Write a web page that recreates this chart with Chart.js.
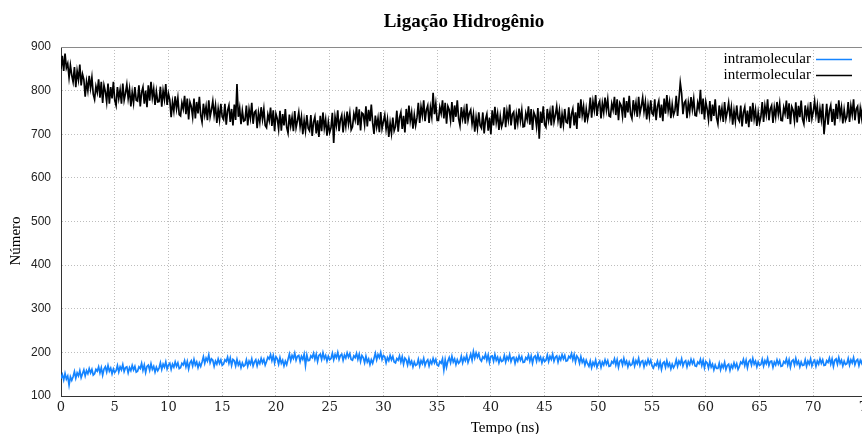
<!DOCTYPE html>
<html>
<head>
<meta charset="utf-8">
<script src="https://cdn.jsdelivr.net/npm/chart.js@4.4.1/dist/chart.umd.min.js"></script>
<style>
  html, body { margin: 0; padding: 0; background: #fff; overflow: hidden; }
  #grafico { display: block; }
</style>
</head>
<body>
<canvas id="grafico" width="867" height="434"></canvas>
<script>
// valores, um ponto a cada 0.125 ns (0 a 75 ns)
const PASSO = 0.125;

const intermolecular = [
  850,
  880, 845, 885, 852, 862, 830, 858, 835, 820, 854, 808, 845, 825, 860, 812, 838,
  826, 786, 821, 800, 834, 806, 830, 792, 780, 810, 796, 826, 784, 820, 772, 812,
  798, 774, 816, 770, 808, 782, 820, 778,
  766, 808, 782, 802, 770, 816, 778, 794, 814, 782, 804, 764, 796, 772, 808, 778,
  776, 812, 764, 796, 808, 770, 800, 762, 812, 777, 820, 784, 804, 767, 798, 774,
  775, 809, 763, 800, 780, 815, 767, 793,
  779, 739, 774, 753, 787, 759, 783, 745, 742, 772, 758, 788, 746, 782, 734, 774,
  764, 740, 782, 736, 774, 748, 786, 744, 728, 770, 744, 764, 732, 778, 740, 756,
  776, 744, 766, 726, 758, 734, 770, 740,
  734, 770, 722, 754, 766, 728, 758, 720, 768, 733, 815, 740, 760, 723, 754, 730,
  732, 766, 720, 757, 737, 772, 724, 750, 754, 714, 749, 728, 762, 734, 758, 720,
  715, 745, 731, 761, 719, 755, 707, 747,
  736, 712, 754, 708, 746, 720, 758, 716, 703, 745, 719, 739, 707, 753, 715, 731,
  750, 718, 740, 700, 732, 708, 744, 714, 708, 744, 696, 728, 740, 702, 732, 694,
  742, 707, 750, 714, 734, 697, 728, 704,
  715, 749, 680, 740, 720, 755, 707, 733, 744, 704, 739, 718, 752, 724, 748, 710,
  717, 747, 733, 763, 721, 757, 709, 749, 746, 722, 764, 718, 756, 730, 768, 726,
  701, 743, 717, 737, 705, 751, 713, 729,
  744, 712, 734, 694, 726, 702, 738, 708, 718, 754, 706, 738, 750, 712, 742, 704,
  758, 723, 766, 730, 750, 713, 744, 720, 738, 772, 726, 763, 743, 778, 730, 756,
  766, 726, 761, 740, 795, 746, 770, 732,
  732, 762, 748, 778, 736, 772, 724, 764, 756, 732, 774, 728, 766, 740, 778, 736,
  720, 762, 736, 756, 724, 770, 732, 748, 756, 724, 746, 706, 738, 714, 750, 720,
  714, 750, 702, 734, 746, 708, 738, 700,
  755, 720, 763, 727, 747, 710, 741, 717, 728, 762, 716, 753, 733, 768, 720, 746,
  751, 711, 746, 725, 759, 731, 755, 717, 718, 748, 734, 764, 722, 758, 710, 750,
  742, 718, 760, 690, 752, 726, 764, 722,
  716, 758, 732, 752, 720, 766, 728, 744, 764, 732, 754, 714, 746, 722, 758, 728,
  726, 762, 714, 746, 758, 720, 750, 712, 772, 737, 780, 744, 764, 727, 758, 734,
  750, 784, 738, 775, 755, 790, 742, 768,
  776, 736, 771, 750, 784, 756, 780, 742, 740, 770, 756, 786, 744, 780, 732, 772,
  766, 742, 784, 738, 776, 750, 788, 746, 736, 778, 752, 772, 740, 786, 748, 764,
  784, 752, 774, 734, 766, 742, 778, 748,
  744, 780, 732, 764, 776, 738, 768, 730, 782, 747, 790, 754, 774, 737, 768, 744,
  754, 788, 742, 779, 818, 794, 746, 772, 777, 737, 772, 751, 785, 757, 781, 743,
  742, 772, 758, 802, 746, 782, 734, 774,
  758, 734, 776, 730, 768, 742, 780, 738, 724, 766, 740, 760, 728, 774, 736, 752,
  772, 740, 762, 722, 754, 730, 766, 736, 730, 766, 718, 750, 762, 724, 754, 716,
  764, 729, 772, 736, 756, 719, 750, 726,
  740, 774, 728, 765, 745, 780, 732, 758, 766, 726, 761, 740, 774, 746, 770, 732,
  731, 761, 747, 777, 735, 771, 723, 763, 755, 731, 773, 727, 765, 739, 777, 735,
  724, 766, 740, 760, 728, 774, 736, 752,
  776, 744, 766, 726, 758, 734, 770, 700, 734, 770, 722, 754, 766, 728, 758, 720,
  770, 735, 778, 742, 762, 725, 756, 732, 740, 774, 728, 765, 745, 780, 732, 758,
  764, 724, 759, 738, 772, 744, 768, 730
];

const intramolecular = [
  140,
  149, 137, 152, 139, 146, 125, 144, 136, 144, 156, 141, 153, 146, 158, 142, 151,
  160, 146, 158, 151, 163, 153, 161, 148, 151, 161, 157, 167, 153, 165, 148, 162,
  167, 155, 170, 157, 164, 151, 162, 154,
  158, 170, 155, 167, 160, 172, 156, 165, 167, 153, 165, 158, 170, 160, 168, 155,
  157, 167, 163, 175, 159, 171, 154, 168, 171, 159, 174, 161, 168, 155, 166, 158,
  164, 176, 161, 173, 166, 178, 162, 171,
  175, 161, 173, 166, 178, 168, 176, 163, 165, 175, 171, 181, 167, 179, 162, 176,
  181, 169, 184, 171, 178, 165, 176, 168, 178, 190, 175, 187, 180, 194, 176, 185,
  182, 168, 180, 173, 185, 175, 183, 170,
  173, 183, 179, 189, 175, 187, 170, 184, 181, 169, 184, 171, 178, 165, 176, 168,
  171, 183, 168, 180, 173, 185, 169, 178, 183, 169, 181, 174, 186, 176, 184, 171,
  179, 189, 185, 195, 181, 193, 176, 190,
  185, 173, 188, 175, 182, 169, 180, 172, 184, 196, 181, 193, 186, 198, 182, 191,
  193, 179, 191, 184, 196, 170, 194, 181, 182, 192, 188, 198, 184, 196, 179, 193,
  196, 184, 199, 186, 193, 180, 191, 183,
  186, 198, 183, 195, 188, 200, 184, 193, 196, 182, 194, 187, 199, 189, 197, 184,
  182, 192, 188, 198, 184, 196, 179, 193, 188, 176, 191, 178, 185, 172, 183, 175,
  186, 198, 183, 195, 188, 200, 184, 193,
  190, 176, 188, 181, 193, 183, 191, 178, 176, 186, 182, 192, 178, 190, 173, 187,
  183, 171, 186, 173, 180, 167, 178, 170, 172, 184, 169, 181, 174, 186, 170, 179,
  183, 169, 181, 174, 186, 176, 184, 171,
  169, 179, 175, 185, 160, 183, 166, 180, 188, 176, 191, 178, 185, 172, 183, 175,
  179, 191, 176, 188, 181, 193, 177, 186, 196, 182, 202, 187, 199, 189, 197, 184,
  180, 190, 186, 196, 182, 194, 177, 191,
  192, 180, 195, 182, 189, 176, 187, 179, 181, 193, 178, 190, 183, 195, 179, 188,
  189, 175, 187, 180, 192, 182, 190, 177, 178, 188, 184, 194, 180, 192, 175, 189,
  192, 180, 195, 182, 189, 176, 187, 179,
  182, 194, 179, 191, 184, 196, 180, 189, 192, 178, 190, 183, 195, 185, 193, 180,
  181, 191, 187, 197, 183, 195, 178, 192, 187, 175, 190, 177, 184, 171, 182, 174,
  168, 180, 165, 177, 170, 182, 166, 175,
  180, 166, 178, 171, 183, 173, 181, 168, 169, 179, 175, 185, 171, 183, 166, 180,
  183, 171, 186, 173, 180, 167, 178, 170, 172, 184, 169, 181, 174, 186, 170, 179,
  181, 167, 179, 172, 184, 174, 182, 169,
  164, 174, 170, 180, 166, 178, 161, 175, 178, 166, 181, 168, 175, 162, 173, 165,
  171, 183, 168, 180, 173, 185, 169, 178, 181, 167, 179, 172, 184, 174, 182, 169,
  168, 178, 174, 184, 170, 182, 165, 179,
  176, 164, 179, 166, 173, 160, 171, 163, 163, 175, 160, 172, 165, 177, 161, 170,
  173, 159, 171, 164, 176, 166, 174, 161, 168, 178, 174, 184, 170, 182, 165, 179,
  183, 171, 186, 173, 180, 167, 178, 170,
  172, 184, 169, 181, 174, 186, 170, 179, 180, 166, 178, 171, 183, 173, 181, 168,
  169, 179, 175, 185, 171, 183, 166, 180, 183, 171, 186, 173, 180, 167, 178, 170,
  171, 183, 168, 180, 173, 185, 169, 178,
  182, 168, 180, 173, 185, 175, 183, 170, 171, 181, 177, 187, 173, 185, 168, 182,
  185, 173, 188, 175, 182, 169, 180, 172, 174, 186, 171, 183, 176, 188, 172, 181,
  184, 170, 182, 175, 187, 177, 185, 172
];

// eixos
const X_MIN = 0, X_MAX = 75, X_PASSO = 5;
const Y_MIN = 100, Y_MAX = 900, Y_PASSO = 100;

const titulo = 'Ligação Hidrogênio';
const tituloX = 'Tempo (ns)';
const tituloY = 'Número';

const tempo = intermolecular.map((_, i) => i * PASSO);

const azul = '#1484ff';
const preto = '#000000';

// titulo, legenda e nomes dos eixos (estilo gnuplot)
const textos = {
  id: 'textos',
  afterDraw(chart) {
    const ctx = chart.ctx, a = chart.chartArea;
    ctx.save();
    ctx.strokeStyle = '#8a8a8a';
    ctx.lineWidth = 1;
    ctx.beginPath();
    ctx.moveTo(a.left, a.top + 0.5);
    ctx.lineTo(a.right, a.top + 0.5);
    ctx.stroke();

    ctx.fillStyle = '#000';
    ctx.textAlign = 'center';
    ctx.textBaseline = 'middle';
    ctx.font = 'bold 19px "Liberation Serif"';
    ctx.fillText(titulo, (a.left + a.right) / 2, 22);

    ctx.font = '15px "Liberation Serif"';
    ctx.fillText(tituloX, 505, 428);

    ctx.save();
    ctx.translate(16, 241);
    ctx.rotate(-Math.PI / 2);
    ctx.fillText(tituloY, 0, 0);
    ctx.restore();

    // legenda
    const itens = [['intramolecular', azul, 59], ['intermolecular', preto, 75]];
    ctx.textAlign = 'right';
    itens.forEach(([nome, cor, y]) => {
      ctx.fillStyle = '#000';
      ctx.fillText(nome, 811, y);
      ctx.strokeStyle = cor;
      ctx.lineWidth = 1.5;
      ctx.beginPath();
      ctx.moveTo(816, y + 0.5);
      ctx.lineTo(852, y + 0.5);
      ctx.stroke();
    });
    ctx.restore();
  }
};

new Chart(document.getElementById('grafico'), {
  type: 'line',
  data: {
    datasets: [{
      label: 'intramolecular',
      data: tempo.map((t, i) => ({ x: t, y: intramolecular[i] })),
      borderColor: azul,
      borderWidth: 1.7,
      pointRadius: 0,
      tension: 0
    }, {
      label: 'intermolecular',
      data: tempo.map((t, i) => ({ x: t, y: intermolecular[i] })),
      borderColor: preto,
      borderWidth: 1.7,
      pointRadius: 0,
      tension: 0
    }]
  },
  options: {
    responsive: false,
    animation: false,
    layout: { padding: { top: 47, left: 0, right: 0, bottom: 0 }, autoPadding: false },
    plugins: {
      legend: { display: false },
      title: { display: false },
      tooltip: { enabled: false }
    },
    scales: {
      x: {
        type: 'linear',
        min: X_MIN, max: X_MAX,
        ticks: { stepSize: X_PASSO, color: '#222', font: { family: 'DejaVu Serif', size: 13 }, padding: 4, maxRotation: 0, autoSkip: false },
        grid: { color: '#bdbdbd', drawTicks: false },
        border: { color: '#333', width: 1, dash: [1, 2] },
        afterFit(s) { s.height = 38; s.paddingLeft = 0; s.paddingRight = 0; }
      },
      y: {
        min: Y_MIN, max: Y_MAX,
        ticks: { stepSize: Y_PASSO, color: '#222', font: { family: 'Liberation Sans', size: 12 }, padding: 10 },
        grid: { color: '#bdbdbd', drawTicks: false },
        border: { color: '#333', width: 1, dash: [1, 2] },
        afterFit(s) { s.width = 61; }
      }
    }
  },
  plugins: [textos]
});
</script>
</body>
</html>
